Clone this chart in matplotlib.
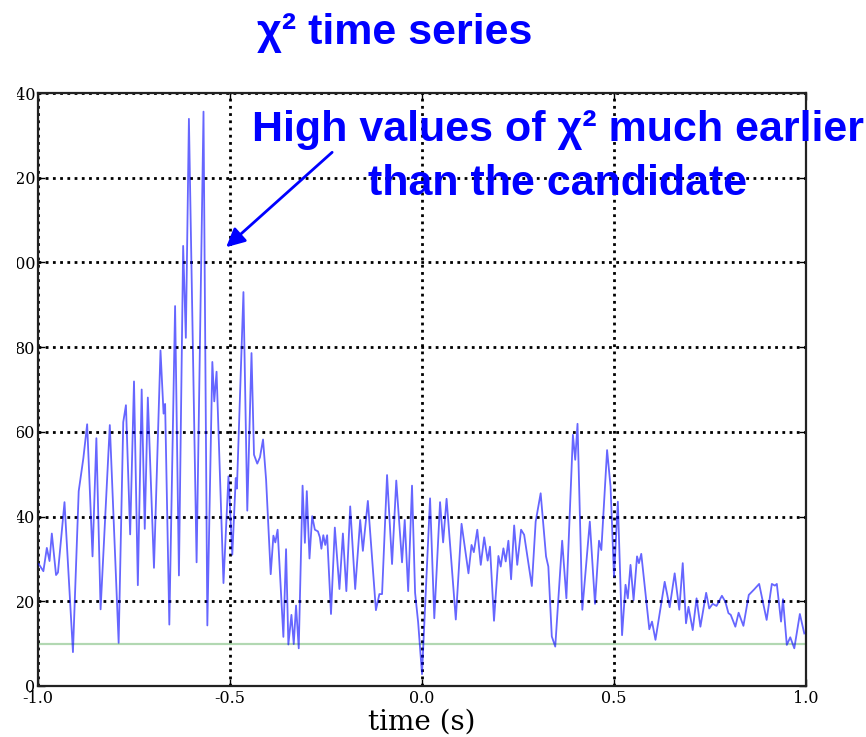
import matplotlib
matplotlib.use("Agg")
import matplotlib.pyplot as plt
from matplotlib.transforms import Bbox, TransformedBbox

# ---- data ----
time_s = [-0.998, -0.986, -0.977, -0.970, -0.964, -0.953, -0.948, -0.931, -0.909, -0.894,
          -0.882, -0.872, -0.858, -0.848, -0.837, -0.813, -0.790, -0.778, -0.771, -0.760,
          -0.750, -0.740, -0.730, -0.722, -0.714, -0.698, -0.681, -0.673, -0.669, -0.658,
          -0.643, -0.633, -0.622, -0.615, -0.607, -0.587, -0.569, -0.559, -0.546, -0.541,
          -0.535, -0.517, -0.504, -0.494, -0.485, -0.482, -0.465, -0.455, -0.444, -0.4375,
          -0.429, -0.422, -0.414, -0.406, -0.394, -0.387, -0.382, -0.376, -0.361, -0.354,
          -0.348, -0.340, -0.334, -0.328, -0.321, -0.311, -0.305, -0.300, -0.293, -0.286,
          -0.279, -0.271, -0.266, -0.262, -0.257, -0.252, -0.247, -0.237, -0.227, -0.215,
          -0.206, -0.197, -0.187, -0.174, -0.161, -0.154, -0.141, -0.120, -0.111, -0.104,
          -0.091, -0.078, -0.067, -0.052, -0.045, -0.036, -0.026, -0.018, -0.010, 0.000,
          0.021, 0.032, 0.047, 0.055, 0.064, 0.088, 0.103, 0.121, 0.129, 0.135,
          0.144, 0.153, 0.162, 0.171, 0.177, 0.1875, 0.199, 0.205, 0.212, 0.218,
          0.225, 0.232, 0.240, 0.248, 0.258, 0.266, 0.274, 0.286, 0.296, 0.309,
          0.323, 0.329, 0.338, 0.347, 0.365, 0.376, 0.393, 0.399, 0.405, 0.4175,
          0.437, 0.4505, 0.461, 0.467, 0.482, 0.491, 0.500, 0.510, 0.521, 0.530,
          0.536, 0.543, 0.551, 0.560, 0.565, 0.571, 0.580, 0.592, 0.599, 0.608,
          0.632, 0.645, 0.658, 0.670, 0.679, 0.6875, 0.694, 0.705, 0.715, 0.725,
          0.740, 0.748, 0.757, 0.767, 0.781, 0.790, 0.798, 0.804, 0.816, 0.8245,
          0.837, 0.851, 0.865, 0.878, 0.8975, 0.911, 0.919, 0.924, 0.935, 0.940,
          0.950, 0.959, 0.9695, 0.984, 0.9955]

chi2 = [28.8, 27.1, 32.6, 29.5, 36.0, 26.2, 26.8, 43.4, 8.0, 46.0,
        53.7, 61.8, 30.6, 58.5, 18.1, 61.6, 10.2, 62.3, 66.3, 35.8,
        71.9, 23.8, 70.0, 37.1, 68.1, 27.9, 79.2, 64.3, 66.6, 14.5,
        89.7, 26.1, 103.9, 82.2, 133.9, 29.2, 135.6, 14.3, 76.5, 67.2,
        74.2, 24.3, 49.5, 31.0, 49.1, 46.6, 93.0, 41.4, 78.6, 54.6,
        52.5, 54.0, 58.2, 48.7, 26.4, 35.5, 33.9, 36.9, 11.6, 32.3,
        9.8, 16.8, 9.9, 19.0, 8.9, 47.3, 33.8, 46.0, 30.1, 40.1,
        36.9, 36.5, 35.1, 32.4, 35.6, 33.3, 35.6, 17.0, 37.4, 22.9,
        36.0, 22.4, 42.4, 22.9, 39.2, 31.9, 43.7, 17.9, 21.7, 21.7,
        49.8, 28.8, 48.5, 29.2, 39.2, 22.4, 47.3, 22.0, 15.0, 2.8,
        44.3, 16.0, 43.4, 33.9, 44.2, 15.7, 38.3, 26.6, 33.3, 31.6,
        36.9, 28.6, 35.1, 29.6, 32.9, 15.4, 30.7, 28.2, 32.5, 29.4,
        34.3, 25.2, 37.9, 28.6, 36.9, 35.7, 30.9, 23.6, 38.8, 45.5,
        30.6, 28.2, 11.7, 9.3, 34.3, 20.7, 59.3, 53.4, 61.9, 18.0,
        38.8, 19.4, 34.3, 32.1, 55.7, 47.1, 25.8, 43.5, 12.0, 23.9,
        20.7, 28.6, 20.3, 30.6, 29.0, 31.2, 23.5, 13.4, 15.2, 10.9,
        24.6, 18.6, 26.6, 18.0, 29.0, 14.8, 18.7, 13.2, 20.7, 14.0,
        22.0, 18.3, 19.4, 18.9, 21.3, 19.9, 17.2, 16.8, 14.0, 17.3,
        14.2, 21.5, 22.8, 24.1, 15.6, 24.1, 23.7, 24.1, 15.2, 20.5,
        9.7, 11.5, 8.9, 17.0, 12.4]

threshold = 10
x_ticks = [-1.0, -0.5, 0.0, 0.5, 1.0]
x_tick_labels = ["-1.0", "-0.5", "0.0", "0.5", "1.0"]
y_ticks = [0, 20, 40, 60, 80, 100, 120, 140]
y_tick_labels = ["0", "20", "40", "60", "80", "100", "120", "140"]

title_text = "χ² time series"
note_text = "High values of χ² much earlier\nthan the candidate"
note_arrow_tail = (-0.234, 126.0)
note_arrow_head = (-0.510, 103.6)

W, H = 866, 737
fig = plt.figure(figsize=(W / 100, H / 100), dpi=100)
ax = fig.add_axes([38 / W, 1 - 686 / H, (806 - 38) / W, (686 - 93) / H])

ax.plot(time_s, chi2, color="blue", alpha=0.6, lw=1.3, zorder=3)
ax.axhline(threshold, color=(0, 0.5, 0), alpha=0.3, lw=1.6, zorder=2)

ax.set_xlim(-1, 1)
ax.set_ylim(0, 140)
ax.set_xticks(x_ticks)
ax.set_xticklabels(x_tick_labels, fontsize=11.5, family="DejaVu Serif")
ax.set_yticks(y_ticks)
ax.set_yticklabels(y_tick_labels, fontsize=11.5, family="DejaVu Serif")
ax.grid(True, color="black", linestyle=(0, (1, 1.6)), linewidth=2)
for s in ax.spines.values():
    s.set_linewidth(1.6)
    s.set_color("#222222")
ax.tick_params(direction="in", top=True, right=True, length=5, width=1, pad=3)
ax.tick_params(axis="y", pad=2)

clip = TransformedBbox(Bbox.from_extents(17 / W, 0, 1, 1), fig.transFigure)
for lab in ax.get_yticklabels():
    lab.set_clip_box(clip)
    lab.set_clip_on(True)

ax.set_xlabel("time (s)", fontsize=20, family="DejaVu Serif", labelpad=1)

fig.text(395 / W, 1 - 33 / H, title_text, ha="center", va="center",
         fontsize=31, fontweight="bold", color="#0000ff", family="Liberation Sans")

ax.text((558 - 38) / 768, 1 - (157 - 93) / 593, note_text,
        transform=ax.transAxes, ha="center", va="center", multialignment="center",
        fontsize=31, fontweight="bold", color="#0000ff", family="Liberation Sans",
        linespacing=1.45, zorder=5)

ax.annotate("", xy=note_arrow_head, xytext=note_arrow_tail,
            arrowprops=dict(arrowstyle="-|>", color="#0000ff", lw=2,
                            mutation_scale=28, shrinkA=0, shrinkB=0), zorder=5)

fig.savefig("out.png", dpi=100)
